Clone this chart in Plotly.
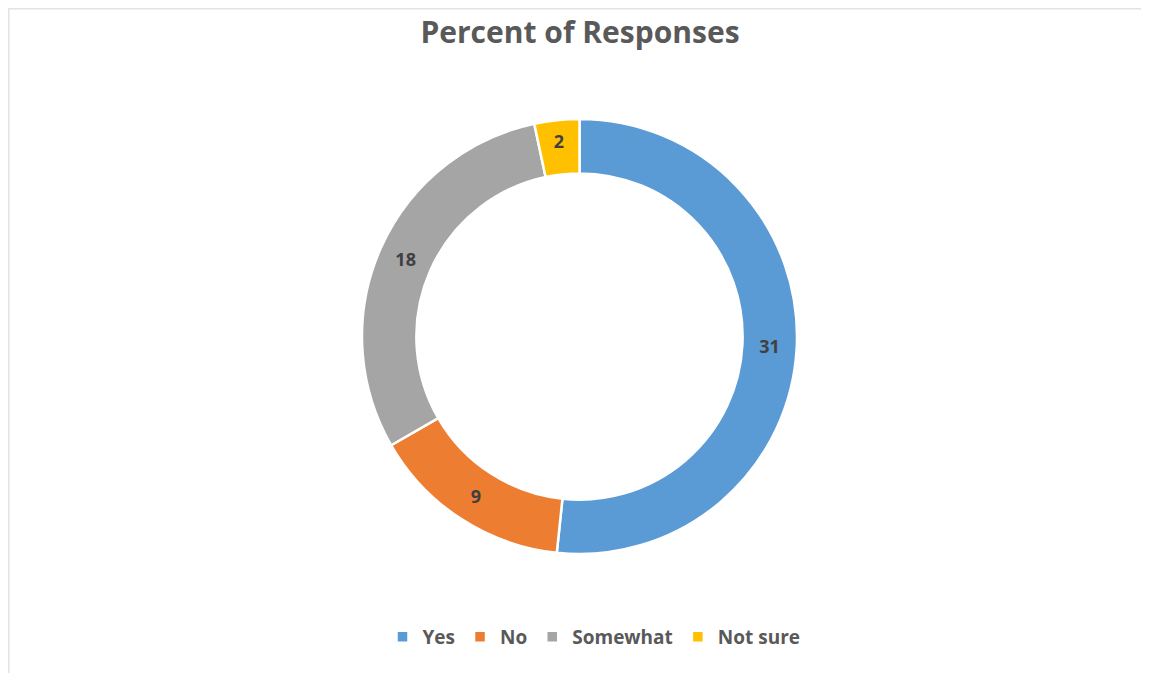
import plotly.graph_objects as go

categories = ["Yes", "No", "Somewhat", "Not sure"]
values = [31, 9, 18, 2]
colors = ["#5B9BD5", "#ED7D31", "#A5A5A5", "#FFC000"]

# page has an 8px body margin; work in figure coordinates
W, H = 1141, 665
OFF = 8

def px_x(x):
    return (x - OFF) / W

def px_y(y):
    return 1 - (y - OFF) / H

fig = go.Figure(go.Pie(
    labels=categories,
    values=values,
    marker=dict(colors=colors, line=dict(color="white", width=2.5)),
    hole=0.75,
    sort=False,
    direction="clockwise",
    rotation=0,
    textinfo="value",
    textposition="inside",
    insidetextorientation="horizontal",
    textfont=dict(family="Open Sans", size=18, color="#404040", weight="bold"),
    domain=dict(x=[px_x(362), px_x(797)], y=[px_y(555), px_y(118)]),
    hoverinfo="label+value",
))

fig.update_layout(
    width=W, height=H,
    margin=dict(l=0, r=0, t=0, b=0),
    paper_bgcolor="white",
    plot_bgcolor="white",
    uniformtext=dict(minsize=18, mode="show"),
    title=dict(
        text="Percent of Responses",
        x=px_x(580), xanchor="center",
        y=px_y(32), yanchor="middle",
        font=dict(family="Open Sans", size=30, color="#595959", weight="bold"),
    ),
    legend=dict(
        orientation="h",
        x=px_x(594), xanchor="center",
        y=px_y(637), yanchor="middle",
        font=dict(family="Open Sans", size=19, color="#595959", weight="bold"),
        itemwidth=30,
        traceorder="normal",
    ),
    shapes=[
        dict(type="line", xref="paper", yref="paper", x0=0, x1=1, y0=1 - 0.5 / H, y1=1 - 0.5 / H,
             line=dict(color="#E3E3E3", width=2)),
        dict(type="line", xref="paper", yref="paper", x0=0.5 / W, x1=0.5 / W, y0=0, y1=1,
             line=dict(color="#E3E3E3", width=2)),
    ],
)

fig.write_html("out.html")
